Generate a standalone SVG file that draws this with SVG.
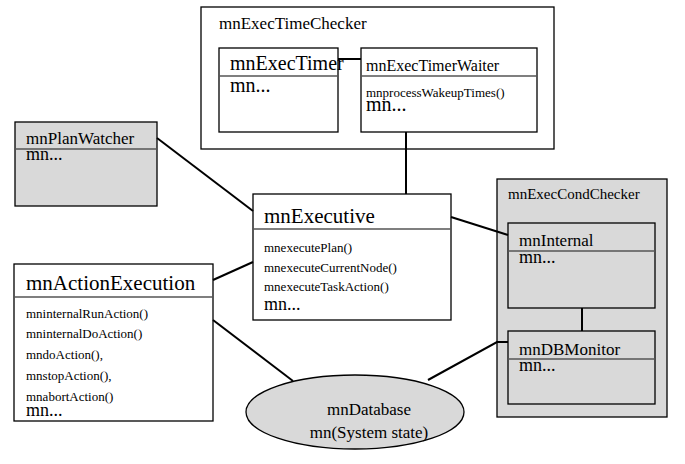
<svg xmlns="http://www.w3.org/2000/svg" width="685" height="464" viewBox="0 0 685 464">
<style>
.t{font-family:"Liberation Serif",serif}
.box{fill:#fff;stroke:#000;stroke-width:1.3}
.gbox{fill:#d9d9d9;stroke:#000;stroke-width:1.3}
.div{stroke:#555;stroke-width:1.3}
.con{stroke:#000;stroke-width:2;fill:none}
</style>
<rect width="685" height="464" fill="#fff"/>
<g id="mnExecTimeChecker">
<rect class="box" x="201" y="7" width="353" height="142" stroke="#444"/>
<text class="t" x="219" y="29" font-size="17">mnExecTimeChecker</text>
</g>
<g id="mnExecTimer">
<rect class="box" x="219" y="48" width="119" height="84"/>
<line class="div" x1="219" y1="76" x2="338" y2="76"/>
<text class="t" x="230" y="70" font-size="20">mnExecTimer</text>
<text class="t" x="230" y="92" font-size="20">mn...</text>
</g>
<g id="mnExecTimerWaiter">
<rect class="box" x="361" y="48" width="176" height="84"/>
<line class="div" x1="361" y1="76" x2="537" y2="76"/>
<text class="t" x="366" y="71" font-size="16">mnExecTimerWaiter</text>
<text class="t" x="366" y="97" font-size="13">mnprocessWakeupTimes()</text>
<text class="t" x="366" y="111" font-size="20">mn...</text>
</g>
<g id="mnPlanWatcher">
<rect class="gbox" x="15" y="122" width="142" height="84"/>
<line class="div" x1="15" y1="149" x2="157" y2="149"/>
<text class="t" x="26" y="144" font-size="17">mnPlanWatcher</text>
<text class="t" x="26" y="160" font-size="18">mn...</text>
</g>
<g id="mnExecutive">
<rect class="box" x="253" y="194" width="198" height="126"/>
<line class="div" x1="253" y1="229" x2="451" y2="229"/>
<text class="t" x="264" y="223" font-size="21">mnExecutive</text>
<text class="t" x="264" y="252" font-size="13">mnexecutePlan()</text>
<text class="t" x="264" y="272" font-size="13">mnexecuteCurrentNode()</text>
<text class="t" x="264" y="291" font-size="13">mnexecuteTaskAction()</text>
<text class="t" x="264" y="310" font-size="18">mn...</text>
</g>
<g id="mnActionExecution">
<rect class="box" x="14" y="264" width="199" height="157"/>
<line class="div" x1="14" y1="297" x2="213" y2="297"/>
<text class="t" x="26" y="290" font-size="21">mnActionExecution</text>
<text class="t" x="26" y="318" font-size="13">mninternalRunAction()</text>
<text class="t" x="26" y="338" font-size="13">mninternalDoAction()</text>
<text class="t" x="26" y="359" font-size="13">mndoAction(),</text>
<text class="t" x="26" y="380" font-size="13">mnstopAction(),</text>
<text class="t" x="26" y="401" font-size="13">mnabortAction()</text>
<text class="t" x="26" y="416" font-size="18">mn...</text>
</g>
<g id="mnExecCondChecker">
<rect class="gbox" x="497" y="179" width="170" height="238" stroke="#444"/>
<text class="t" x="508" y="199" font-size="15">mnExecCondChecker</text>
</g>
<g id="mnInternal">
<rect class="gbox" x="508" y="223" width="147" height="85"/>
<line class="div" x1="508" y1="251" x2="655" y2="251"/>
<text class="t" x="519" y="246" font-size="17">mnInternal</text>
<text class="t" x="519" y="263" font-size="18">mn...</text>
</g>
<g id="mnDBMonitor">
<rect class="gbox" x="508" y="331" width="147" height="73"/>
<line class="div" x1="508" y1="359" x2="655" y2="359"/>
<text class="t" x="519" y="355" font-size="17">mnDBMonitor</text>
<text class="t" x="519" y="371" font-size="18">mn...</text>
</g>
<g id="mnDatabase">
<ellipse cx="355" cy="412" rx="109" ry="37" fill="#d9d9d9" stroke="#000" stroke-width="1.3"/>
<text class="t" x="369" y="415" font-size="17" text-anchor="middle">mnDatabase</text>
<text class="t" x="369" y="438" font-size="17" text-anchor="middle">mn(System state)</text>
</g>
<g id="connectors">
<line class="con" x1="338" y1="59" x2="361" y2="59"/>
<line class="con" x1="406" y1="132" x2="406" y2="194"/>
<line class="con" x1="157" y1="138" x2="253" y2="211"/>
<line class="con" x1="451" y1="217" x2="508" y2="235"/>
<line class="con" x1="253" y1="262" x2="213" y2="280"/>
<line class="con" x1="213" y1="320" x2="293" y2="381"/>
<polyline class="con" points="428,380 497,342 508,342"/>
<line class="con" x1="582" y1="308" x2="582" y2="331"/>
</g>
</svg>
